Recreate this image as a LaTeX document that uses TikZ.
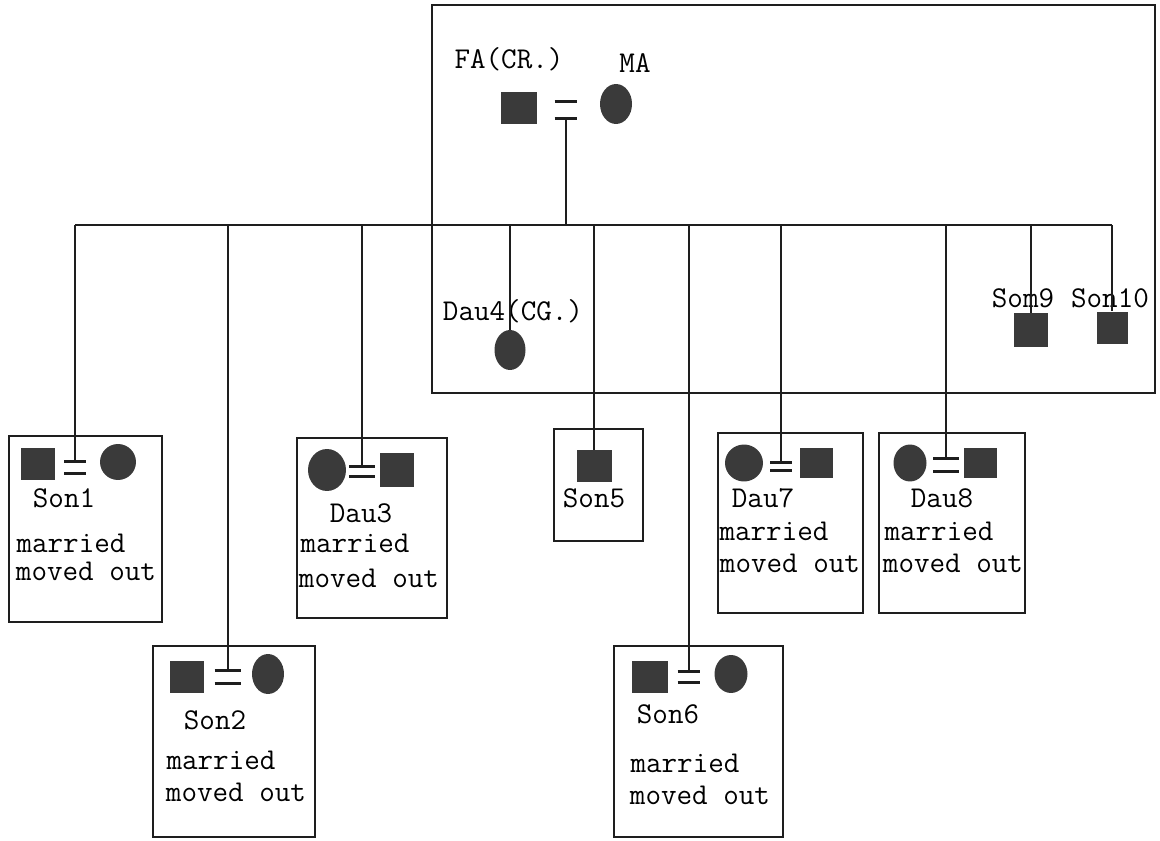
\documentclass[tikz,border=0pt]{standalone}
\usepackage{fontspec}
\usepackage{tikz}
\usetikzlibrary{shapes.geometric, positioning}
\definecolor{SymbGray}{HTML}{3A3A3A}
\definecolor{LineBlack}{HTML}{1E1E1E}

\begin{document}
\begin{tikzpicture}[
    x=0.02cm, y=-0.02cm,
    male/.style={rectangle, fill=SymbGray, inner sep=0pt, minimum width=0.68cm, minimum height=0.64cm},
    female/.style={ellipse, fill=SymbGray, inner sep=0pt, minimum width=0.66cm, minimum height=0.78cm},
    marr/.style={inner sep=0pt, minimum width=0.46cm, minimum height=0.22cm},
    hhbox/.style={draw=LineBlack, line width=1.2pt, inner sep=0pt},
    lbl/.style={font=\ttfamily\fontsize{17.2}{17.2}\selectfont, inner sep=0pt, text height=11.5pt, text depth=3pt},
    tie/.style={draw=LineBlack, line width=1.2pt},
    bar/.style={draw=LineBlack, line width=1.5pt}
  ]
    \useasboundingbox (0,0) rectangle (1160,841);

    % Households
    \node[hhbox, minimum width=14.46cm, minimum height=7.76cm] (home) at (793.5,199) {};
    \node[hhbox, minimum width=3.06cm, minimum height=3.72cm] (box1) at (85.5,529) {};
    \node[hhbox, minimum width=3.24cm, minimum height=3.82cm] (box2) at (234,741.5) {};
    \node[hhbox, minimum width=3.00cm, minimum height=3.60cm] (box3) at (372,528) {};
    \node[hhbox, minimum width=1.78cm, minimum height=2.24cm] (box5) at (598.5,485) {};
    \node[hhbox, minimum width=3.38cm, minimum height=3.82cm] (box6) at (698.5,741.5) {};
    \node[hhbox, minimum width=2.90cm, minimum height=3.60cm] (box7) at (790.5,523) {};
    \node[hhbox, minimum width=2.92cm, minimum height=3.60cm] (box8) at (952,523) {};

    % Parents
    \node[lbl] (faname) at (509,61) {FA(CR.)};
    \node[lbl] (maname) at (635,65) {MA};
    \node[male, minimum width=0.72cm] (fa) at (519,108) {};
    \node[female, minimum width=0.64cm, minimum height=0.8cm] (ma) at (616,104) {};
    \node[marr, minimum width=0.44cm, minimum height=0.32cm] (eqP) at (566,110) {};
    \coordinate (sib) at (566,225);

    % Son1
    \node[male] (son1) at (38,464) {};
    \node[female, minimum width=0.72cm, minimum height=0.72cm] (wife1) at (118,462) {};
    \node[marr, minimum width=0.42cm] (eq1) at (75,467.5) {};
    \node[lbl] (son1name) at (64,500) {Son1};
    \node[lbl] (son1m) at (71,545) {married};
    \node[lbl] (son1o) at (86,573) {moved out};

    % Son2
    \node[male] (son2) at (187,677) {};
    \node[female, minimum width=0.64cm, minimum height=0.8cm] (wife2) at (268,674) {};
    \node[marr, minimum width=0.52cm, minimum height=0.24cm] (eq2) at (228,677) {};
    \node[lbl] (son2name) at (215,722) {Son2};
    \node[lbl] (son2m) at (221,762) {married};
    \node[lbl] (son2o) at (236,794) {moved out};

    % Dau3
    \node[female, minimum width=0.76cm, minimum height=0.84cm] (dau3) at (327,470) {};
    \node[male, minimum height=0.68cm] (hus3) at (397,470) {};
    \node[marr, minimum width=0.5cm, minimum height=0.18cm] (eq3) at (362,471.5) {};
    \node[lbl] (dau3name) at (361,515) {Dau3};
    \node[lbl] (dau3m) at (355,545) {married};
    \node[lbl] (dau3o) at (369,580) {moved out};

    % Dau4 stays
    \node[female, minimum width=0.62cm, minimum height=0.8cm] (dau4) at (510,350) {};
    \node[lbl] (dau4name) at (513,313) {Dau4(CG.)};

    % Son5
    \node[male, minimum width=0.7cm] (son5) at (594,466) {};
    \node[lbl] (son5name) at (594,500) {Son5};

    % Son6
    \node[male, minimum width=0.72cm] (son6) at (650,677) {};
    \node[female, minimum width=0.66cm, minimum height=0.76cm] (wife6) at (731,674) {};
    \node[marr, minimum width=0.44cm, minimum height=0.2cm] (eq6) at (689,677) {};
    \node[lbl] (son6name) at (668,716) {Son6};
    \node[lbl] (son6m) at (685,765) {married};
    \node[lbl] (son6o) at (700,797) {moved out};

    % Dau7
    \node[female, minimum width=0.76cm, minimum height=0.74cm] (dau7) at (744,463) {};
    \node[male, minimum width=0.66cm, minimum height=0.62cm] (hus7) at (816,463) {};
    \node[marr, minimum width=0.42cm, minimum height=0.14cm] (eq7) at (781,466.5) {};
    \node[lbl] (dau7name) at (763,500) {Dau7};
    \node[lbl] (dau7m) at (774,533) {married};
    \node[lbl] (dau7o) at (790,565) {moved out};

    % Dau8
    \node[female, minimum width=0.66cm, minimum height=0.74cm] (dau8) at (910,463) {};
    \node[male, minimum width=0.66cm, minimum height=0.62cm] (hus8) at (980,463) {};
    \node[marr, minimum width=0.5cm, minimum height=0.24cm] (eq8) at (946,465) {};
    \node[lbl] (dau8name) at (942,500) {Dau8};
    \node[lbl] (dau8m) at (939,533) {married};
    \node[lbl] (dau8o) at (953,565) {moved out};

    % Son9 and Son10 stay
    \node[male, minimum width=0.68cm, minimum height=0.68cm] (son9) at (1031,330) {};
    \node[lbl] (son9name) at (1023,300) {Som9};
    \node[male, minimum width=0.62cm, minimum height=0.66cm] (son10) at (1112,328) {};
    \node[lbl] (son10name) at (1110,300) {Son10};

    % Marriage marks
    \foreach \e in {eqP, eq1, eq2, eq3, eq6, eq7, eq8}
      \draw[bar] (\e.north west) -- (\e.north east) (\e.south west) -- (\e.south east);

    % Lines of descent
    \draw[tie] (eqP.south) -- (sib);
    \draw[tie] (eq1.north |- sib) -- (son10.north |- sib);
    \foreach \c in {eq1.north, eq2.north, eq3.north, dau4.north, son5.north, eq6.north, eq7.north, eq8.north, son9.north, son10.north}
      \draw[tie] (\c) -- (\c |- sib);

  \end{tikzpicture}
\end{document}
